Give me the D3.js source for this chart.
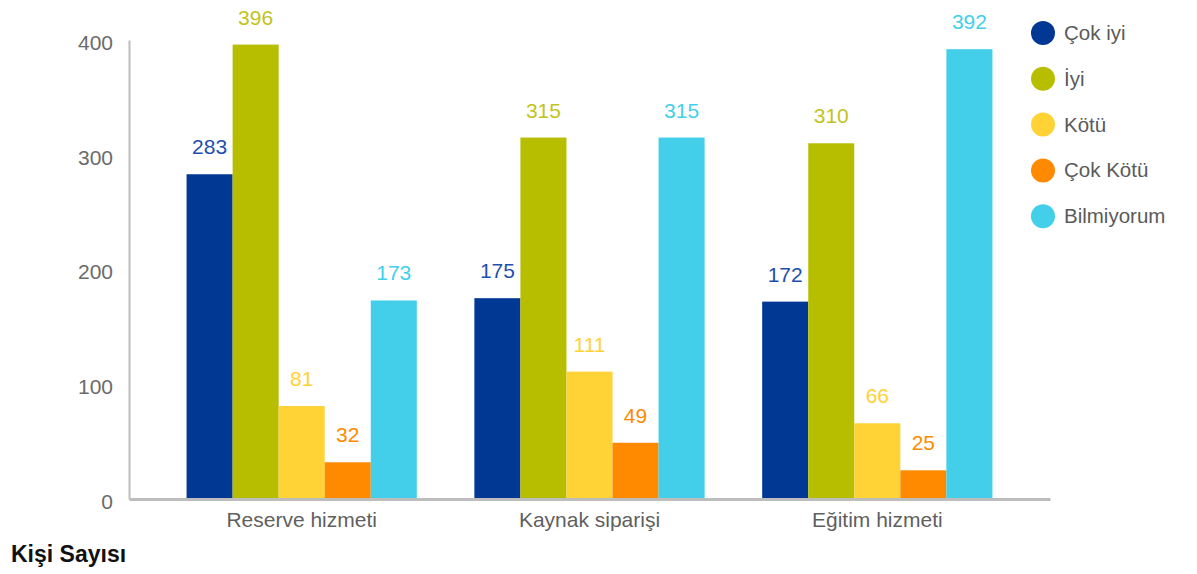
<!DOCTYPE html>
<html>
<head>
<meta charset="utf-8">
<script src="https://cdn.jsdelivr.net/npm/d3@7"></script>
<style>
  body { margin: 0; background: #fff; }
  svg { font-family: "Liberation Sans", Arial, sans-serif; }
</style>
</head>
<body>
<div id="chart"></div>
<script>
const categories = ["Reserve hizmeti", "Kaynak siparişi", "Eğitim hizmeti"];
const seriesNames = ["Çok iyi", "İyi", "Kötü", "Çok Kötü", "Bilmiyorum"];
const seriesColors = ["#003893", "#b7be00", "#ffd236", "#ff8a00", "#43cfea"];
const cokIyi = [283, 175, 172];
const iyi = [396, 315, 310];
const kotu = [81, 111, 66];
const cokKotu = [32, 49, 25];
const bilmiyorum = [173, 315, 392];
const yTicks = [0, 100, 200, 300, 400];
const yTitle = "Kişi Sayısı";

const seriesValues = [cokIyi, iyi, kotu, cokKotu, bilmiyorum];

const width = 1197;
const height = 574;
const fontFamily = "Liberation Sans, Arial, sans-serif";

const svg = d3
  .select("#chart")
  .append("svg")
  .attr("width", width)
  .attr("height", height);

const x0 = d3.scaleBand().domain(categories).range([129, 1050]).padding(0.2);
const x1 = d3
  .scaleBand()
  .domain(seriesNames)
  .range([0, x0.bandwidth()]);
const y = d3.scaleLinear().domain([0, 400]).range([499, 40]);

// y axis
const yAxis = svg
  .append("g")
  .attr("transform", "translate(129,0)")
  .call(d3.axisLeft(y).tickValues(yTicks).tickSize(0).tickPadding(16));
yAxis.select(".domain").attr("stroke", "#bdbdbd").attr("stroke-width", 2);
yAxis
  .selectAll("text")
  .attr("fill", "#6b6b6b")
  .attr("font-size", 21)
  .attr("dy", "0.45em")
  .attr("font-family", fontFamily);

// bars
const groups = svg
  .append("g")
  .selectAll("g")
  .data(categories)
  .join("g")
  .attr("transform", (d) => `translate(${x0(d)},0)`);

const rows = (c, ci) => seriesNames.map((s, si) => ({ s, si, v: seriesValues[si][ci] }));

groups
  .selectAll("rect")
  .data(rows)
  .join("rect")
  .attr("x", (d) => x1(d.s))
  .attr("y", (d) => y(d.v))
  .attr("width", x1.bandwidth())
  .attr("height", (d) => y(0) - y(d.v))
  .attr("fill", (d) => seriesColors[d.si]);

groups
  .selectAll("text")
  .data(rows)
  .join("text")
  .attr("x", (d) => x1(d.s) + x1.bandwidth() / 2)
  .attr("y", (d) => y(d.v) - 20)
  .attr("text-anchor", "middle")
  .attr("font-size", 21)
  .attr("fill", (d) => (d.si === 0 ? "#1f4fae" : d.si === 1 ? "#c2c320" : seriesColors[d.si]))
  .text((d) => d.v);

// x axis
const xAxis = svg
  .append("g")
  .attr("transform", "translate(0,499)")
  .call(d3.axisBottom(x0).tickSize(0).tickPadding(13));
xAxis.select(".domain").attr("stroke", "#bdbdbd").attr("stroke-width", 3);
xAxis
  .selectAll("text")
  .attr("fill", "#5f5f5f")
  .attr("font-size", 21)
  .attr("font-family", fontFamily);

// legend
const legend = svg
  .append("g")
  .selectAll("g")
  .data(seriesNames)
  .join("g")
  .attr("transform", (d, i) => `translate(1043,${33 + i * 45.8})`);
legend
  .append("circle")
  .attr("r", 12)
  .attr("fill", (d, i) => seriesColors[i]);
legend
  .append("text")
  .attr("x", 21)
  .attr("y", 7)
  .attr("font-size", 20.5)
  .attr("fill", "#5a5a5a")
  .text((d) => d);

// title
svg
  .append("text")
  .attr("x", 11)
  .attr("y", 562)
  .attr("font-size", 23)
  .attr("font-weight", "bold")
  .attr("fill", "#111")
  .text(yTitle);
</script>
</body>
</html>
